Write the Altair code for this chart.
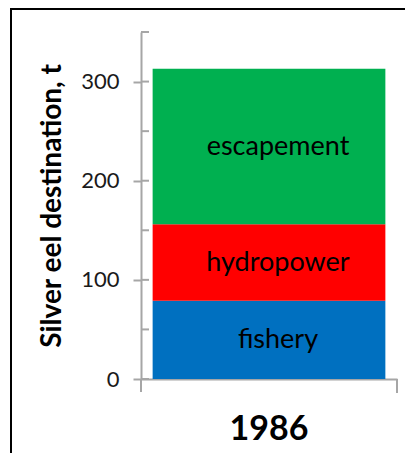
import altair as alt
import pandas as pd

years = ["1986"]
destinations = ["fishery", "hydropower", "escapement"]
tonnes = [79, 77, 157]
colors = ["#0070C0", "#FF0000", "#00B050"]
major_ticks = [0, 100, 200, 300]
minor_ticks = [0, 50, 100, 150, 200, 250, 300, 350]

df = pd.DataFrame({
    "year": years * len(destinations),
    "destination": destinations,
    "tonnes": tonnes,
    "order": list(range(len(destinations))),
})

FONT = "Lato"
AXIS_GRAY = "#A6A6A6"

yscale = alt.Scale(domain=[0, 350], nice=False, zero=True)
xscale = alt.Scale(paddingInner=0, paddingOuter=0.05)

base = alt.Chart(df)

bars = base.mark_bar().encode(
    x=alt.X("year:N", scale=xscale, title=None,
            axis=alt.Axis(ticks=False, domainColor=AXIS_GRAY, domainWidth=2,
                          labelFont=FONT, labelFontSize=34, labelFontWeight="bold",
                          labelColor="#000000", labelPadding=33, labelAngle=0)),
    y=alt.Y("tonnes:Q", stack="zero", scale=yscale,
            title="Silver eel destination, t",
            axis=alt.Axis(values=major_ticks, grid=False, tickSize=8, tickColor=AXIS_GRAY,
                          tickWidth=2, domainColor=AXIS_GRAY, domainWidth=2,
                          labelFont=FONT, labelFontSize=22, labelColor="#1a1a1a",
                          labelPadding=14, titleFont=FONT, titleFontSize=28,
                          titleFontWeight="bold", titleColor="#000000", titlePadding=14)),
    color=alt.Color("destination:N", scale=alt.Scale(domain=destinations, range=colors), legend=None),
    order=alt.Order("order:Q"),
)

labels = base.transform_stack(
    stack="tonnes", groupby=["year"], sort=[alt.SortField("order")], as_=["y0", "y1"]
).transform_calculate(
    mid="(datum.y0 + datum.y1) / 2"
).mark_text(font=FONT, fontSize=27, color="#000000", dx=9).encode(
    x=alt.X("year:N", scale=xscale),
    y=alt.Y("mid:Q", scale=yscale),
    text="destination:N",
)

minor = alt.Chart(pd.DataFrame({"v": minor_ticks})).mark_rule(
    color=AXIS_GRAY, strokeWidth=2
).encode(
    y=alt.Y("v:Q", scale=yscale),
    x=alt.value(0),
    x2=alt.value(8),
)

one = pd.DataFrame({"a": [0]})
yext = alt.Chart(one).mark_rule(color=AXIS_GRAY, strokeWidth=2).encode(
    x=alt.value(0), y=alt.value(347), y2=alt.value(360))
xend = alt.Chart(one).mark_rule(color=AXIS_GRAY, strokeWidth=2).encode(
    x=alt.value(256), y=alt.value(347), y2=alt.value(361))
frame_left = alt.Chart(one).mark_rule(color="#000000", strokeWidth=2).encode(
    x=alt.value(-130), y=alt.value(-24), y2=alt.value(430))
frame_top = alt.Chart(one).mark_rule(color="#000000", strokeWidth=2).encode(
    x=alt.value(-131), x2=alt.value(300), y=alt.value(-23))

chart = alt.layer(frame_left, frame_top, bars, labels, minor, yext, xend).properties(
    width=256, height=347,
    autosize=alt.AutoSizeParams(type="none"),
    padding={"left": 133, "top": 24, "right": 8, "bottom": 74},
).configure_view(stroke=None)

chart.save("out.html", embed_options={"renderer": "svg", "actions": False})
